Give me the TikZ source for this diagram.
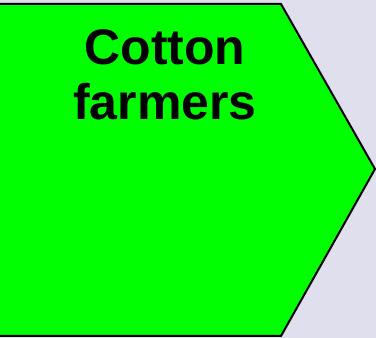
\documentclass[tikz,border=0pt]{standalone}
\usepackage{fontspec}
\setmainfont{Liberation Sans}
\definecolor{bglav}{RGB}{224,223,238}
\definecolor{shapegreen}{RGB}{0,255,0}
\tikzset{
  lbl/.style={font=\fontsize{50}{55}\selectfont\bfseries, anchor=base, inner sep=0pt, text=black},
  arrowshape/.style={fill=shapegreen, draw=black, line width=2pt, line join=miter}
}
\begin{document}
\begin{tikzpicture}[x=1pt,y=1pt]
\useasboundingbox (0,0) rectangle (376,338);
\clip (0,0) rectangle (376,338);
\fill[bglav] (0,0) rectangle (376,338);
\draw[arrowshape] (-10,334) -- (281,334) -- (375,169) -- (281,2) -- (-10,2) -- cycle;
\node[lbl] (l1) at (165,273) {Cotton};
\node[lbl] (l2) at (165,218) {farmers};
\end{tikzpicture}
\end{document}
